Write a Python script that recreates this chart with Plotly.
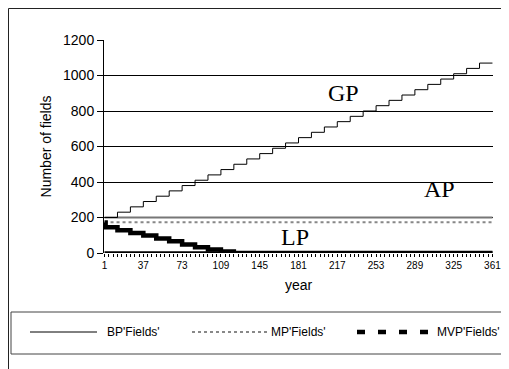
import plotly.graph_objects as go

# ---- data ----
gp_years = [1, 13, 25, 37, 49, 61, 73, 85, 97, 109, 121, 133, 145, 157, 169, 181, 193,
            205, 217, 229, 241, 253, 265, 277, 289, 301, 313, 325, 337, 349, 361]
gp_fields = [200, 230, 260, 290, 320, 350, 380, 410, 440, 470, 500, 530, 560, 590, 620, 650,
             680, 710, 740, 770, 800, 830, 860, 890, 920, 950, 980, 1010, 1040, 1070, 1070]

ap_years = [1, 361]
ap_fields = [200, 200]

mp_years = [1, 361]
mp_fields = [173, 173]

lp_years = [1, 2, 13, 25, 37, 49, 61, 73, 85, 97, 109, 121, 361]
lp_fields = [172, 145, 128, 113, 98, 82, 66, 48, 32, 20, 8, 0, 0]

mvp_years = [1, 361]
mvp_fields = [0, 0]

x_ticks = [1, 37, 73, 109, 145, 181, 217, 253, 289, 325, 361]
y_ticks = [0, 200, 400, 600, 800, 1000, 1200]
legend_names = ["BP'Fields'", "MP'Fields'", "MVP'Fields'"]
curve_labels = ["GP", "AP", "LP"]
label_years = [223, 312, 178]
label_values = [903, 362, 90]

FONT = "Arial, Liberation Sans, sans-serif"
SERIF = "Times New Roman, Liberation Serif, serif"

# page body has an 8px margin; figure sized to fill the rest of the window
OFF = 8
W, H = 509 - OFF, 369 - OFF
# plot area in figure pixels
L, R, T, B = 104 - OFF, 493 - OFF, 40 - OFF, 253 - OFF


def px(xp):
    return (xp - OFF - L) / (R - L)


def py(yp):
    return (B - (yp - OFF)) / (B - T)


fig = go.Figure()
fig.add_trace(go.Scatter(x=ap_years, y=ap_fields, mode="lines",
                         line=dict(color="#777777", width=2), showlegend=False))
fig.add_trace(go.Scatter(x=mp_years, y=mp_fields, mode="lines",
                         line=dict(color="#888888", width=2, dash="dot"), showlegend=False))
fig.add_trace(go.Scatter(x=gp_years, y=gp_fields, mode="lines", line_shape="hv",
                         line=dict(color="black", width=1), showlegend=False))
fig.add_trace(go.Scatter(x=mvp_years, y=mvp_fields, mode="lines",
                         line=dict(color="black", width=3.5), showlegend=False))
fig.add_trace(go.Scatter(x=lp_years, y=lp_fields, mode="lines", line_shape="hv",
                         line=dict(color="black", width=4.5), showlegend=False))

shapes = []
# outer chart frame (extends beyond the right/bottom edges)
shapes.append(dict(type="rect", xref="paper", yref="paper",
                   x0=px(8.5), x1=px(540), y0=py(400), y1=py(8.5),
                   line=dict(color="#222222", width=1), layer="below"))
# legend box
shapes.append(dict(type="rect", xref="paper", yref="paper",
                   x0=px(11), x1=px(540), y0=py(354), y1=py(312),
                   line=dict(color="#444444", width=1)))
# legend samples
ly = py(332)
shapes.append(dict(type="line", xref="paper", yref="paper", x0=px(30), x1=px(97),
                   y0=ly, y1=ly, line=dict(color="black", width=1)))
shapes.append(dict(type="line", xref="paper", yref="paper", x0=px(192), x1=px(268),
                   y0=ly, y1=ly, line=dict(color="#888888", width=2, dash="dot")))
shapes.append(dict(type="line", xref="paper", yref="paper", x0=px(357), x1=px(435),
                   y0=ly, y1=ly, line=dict(color="black", width=4.5, dash="8px,13px")))

annotations = []
for name, xs in zip(legend_names, [105, 269, 435]):
    annotations.append(dict(xref="paper", yref="paper", x=px(xs), y=ly, xanchor="left",
                            yanchor="middle", text=name, showarrow=False,
                            font=dict(family=FONT, size=12, color="black")))
for lab, xx, yy in zip(curve_labels, label_years, label_values):
    annotations.append(dict(x=xx, y=yy, text=lab, showarrow=False,
                            xanchor="center", yanchor="middle",
                            font=dict(family=SERIF, size=24, color="black")))

fig.update_layout(
    width=W, height=H,
    margin=dict(l=L, r=W - R, t=T, b=H - B, autoexpand=False),
    paper_bgcolor="white", plot_bgcolor="white",
    font=dict(family=FONT, color="black"),
    shapes=shapes, annotations=annotations,
    showlegend=False,
    xaxis=dict(range=[0.5, 361.5], tickmode="array", tickvals=x_ticks,
               ticktext=[str(v) for v in x_ticks], tickfont=dict(size=10),
               showgrid=False, zeroline=False, showline=False,
               ticks="outside", ticklen=3, tickcolor="black",
               minor=dict(dtick=4, tick0=1, ticks="outside", ticklen=3, tickcolor="black"),
               title=dict(text="year", font=dict(size=14), standoff=10)),
    yaxis=dict(range=[0, 1200], tickmode="array", tickvals=y_ticks,
               tickfont=dict(size=14), showgrid=True, gridcolor="black", gridwidth=1,
               zeroline=False, showline=True, linecolor="black", linewidth=1,
               ticks="outside", ticklen=6, tickcolor="black",
               title=dict(text="Number of fields", font=dict(size=14), standoff=8)),
)

fig.write_html("out.html")
